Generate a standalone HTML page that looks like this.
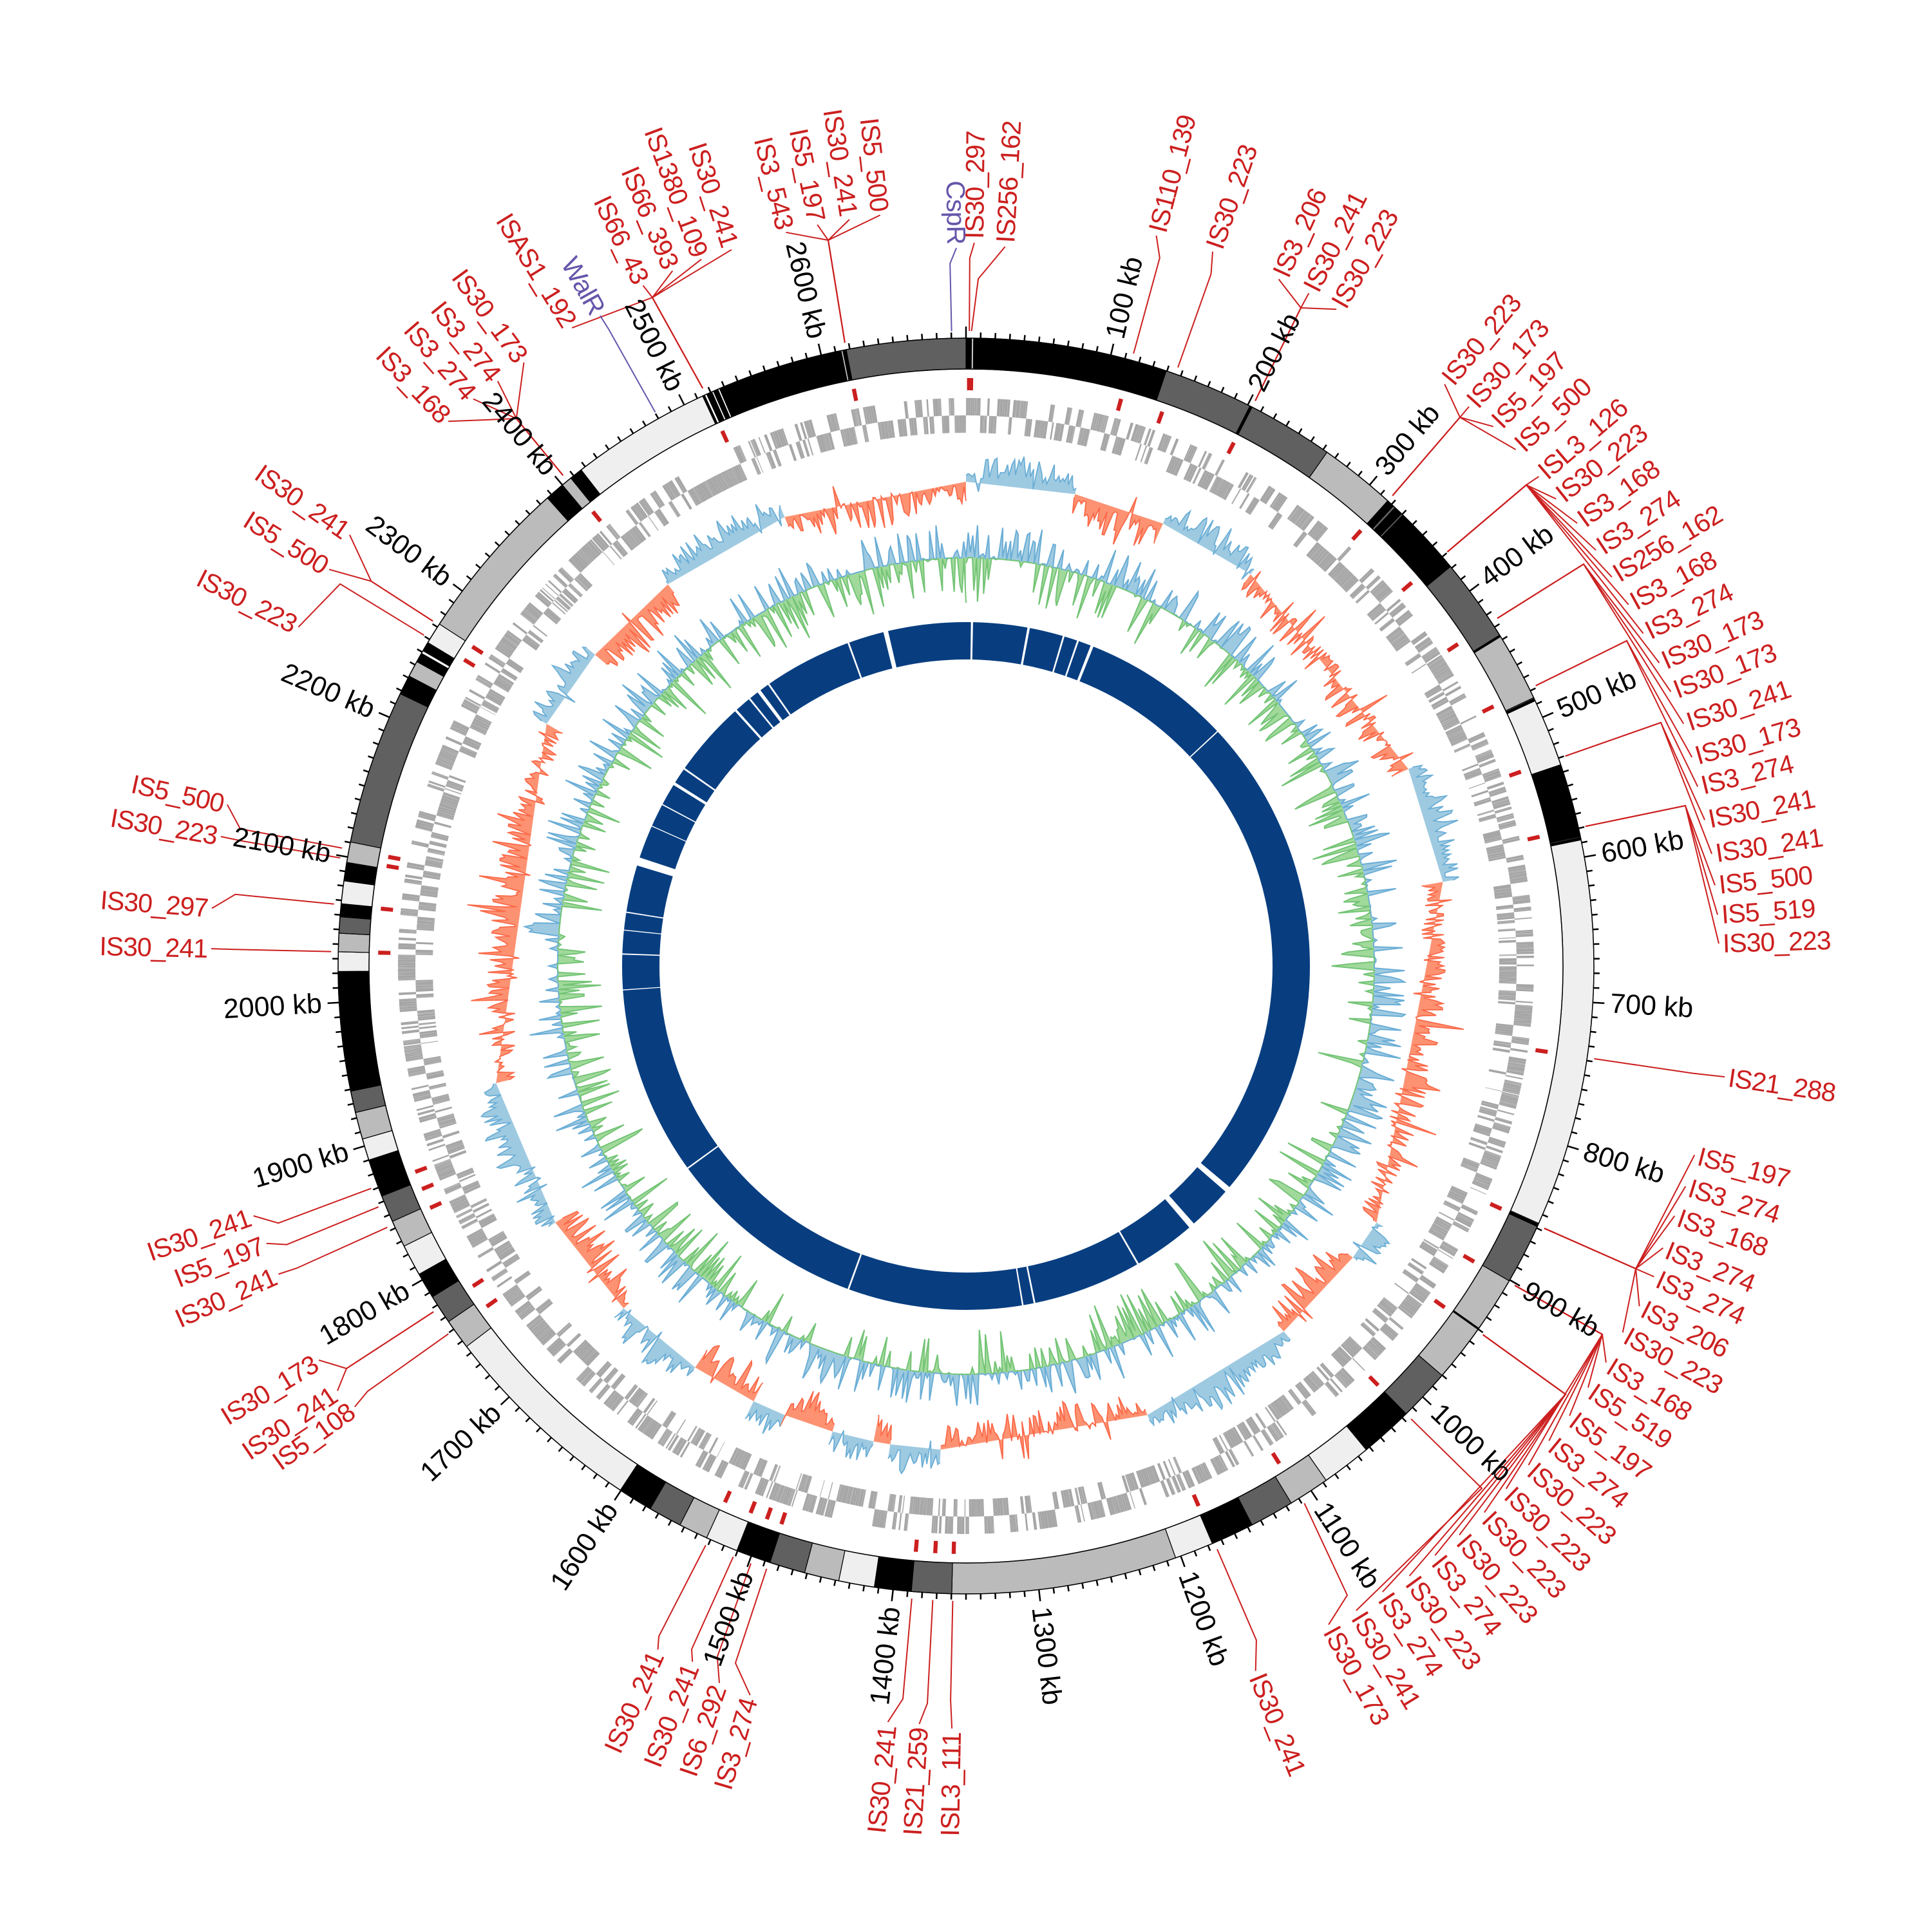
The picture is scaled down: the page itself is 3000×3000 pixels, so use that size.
<!DOCTYPE html>
<html><head><meta charset="utf-8"><style>
html,body{margin:0;padding:0;background:#fff;width:3000px;height:3000px;overflow:hidden}
svg{display:block}
text{font-family:"Liberation Sans",sans-serif}
.lab{font-size:41px;fill:#cc1f1f;letter-spacing:-1px}
.pu{fill:#6655aa}
.tk{font-size:43px;fill:#000}
</style></head><body>
<svg id="S" xmlns="http://www.w3.org/2000/svg" width="3000" height="3000" viewBox="0 0 3000 3000">
<rect width="3000" height="3000" fill="#fff"/>
<g id="G"></g>
<g id="TL">
<text class="tk" x="0" y="0">100 kb</text><text class="tk" x="0" y="0">200 kb</text><text class="tk" x="0" y="0">300 kb</text><text class="tk" x="0" y="0">400 kb</text><text class="tk" x="0" y="0">500 kb</text><text class="tk" x="0" y="0">600 kb</text><text class="tk" x="0" y="0">700 kb</text><text class="tk" x="0" y="0">800 kb</text><text class="tk" x="0" y="0">900 kb</text><text class="tk" x="0" y="0">1000 kb</text><text class="tk" x="0" y="0">1100 kb</text><text class="tk" x="0" y="0">1200 kb</text><text class="tk" x="0" y="0">1300 kb</text><text class="tk" x="0" y="0">1400 kb</text><text class="tk" x="0" y="0">1500 kb</text><text class="tk" x="0" y="0">1600 kb</text><text class="tk" x="0" y="0">1700 kb</text><text class="tk" x="0" y="0">1800 kb</text><text class="tk" x="0" y="0">1900 kb</text><text class="tk" x="0" y="0">2000 kb</text><text class="tk" x="0" y="0">2100 kb</text><text class="tk" x="0" y="0">2200 kb</text><text class="tk" x="0" y="0">2300 kb</text><text class="tk" x="0" y="0">2400 kb</text><text class="tk" x="0" y="0">2500 kb</text><text class="tk" x="0" y="0">2600 kb</text>
</g>
<g id="LB">
<text class="lab pu" x="1485" y="379">CspR</text>
<text class="lab" x="1513" y="371">IS30_297</text>
<text class="lab" x="1561" y="377">IS256_162</text>
<text class="lab" x="1219" y="355">IS3_543</text>
<text class="lab" x="1268" y="343">IS5_197</text>
<text class="lab" x="1318" y="335">IS30_241</text>
<text class="lab" x="1366" y="328">IS5_500</text>
<text class="lab" x="1134" y="382">IS30_241</text>
<text class="lab" x="1087" y="397">IS1380_109</text>
<text class="lab" x="1042" y="415">IS66_393</text>
<text class="lab" x="996" y="438">IS66_43</text>
<text class="lab" x="885" y="504">ISAS1_192</text>
<text class="lab pu" x="929" y="485">WalR</text>
<text class="lab" x="810" y="558">IS30_173</text>
<text class="lab" x="769" y="587">IS3_274</text>
<text class="lab" x="731" y="615">IS3_274</text>
<text class="lab" x="692" y="650">IS3_168</text>
<text class="lab" x="538" y="827">IS30_241</text>
<text class="lab" x="506" y="881">IS5_500</text>
<text class="lab" x="458" y="971">IS30_223</text>
<text class="lab" x="347" y="1248">IS5_500</text>
<text class="lab" x="337" y="1298">IS30_223</text>
<text class="lab" x="323" y="1410">IS30_297</text>
<text class="lab" x="322" y="1473">IS30_241</text>
<text class="lab" x="388" y="1890">IS30_241</text>
<text class="lab" x="408" y="1933">IS5_197</text>
<text class="lab" x="427" y="1981">IS30_241</text>
<text class="lab" x="490" y="2115">IS30_173</text>
<text class="lab" x="519" y="2163">IS30_241</text>
<text class="lab" x="546" y="2188">IS5_108</text>
<text class="lab" x="1019" y="2567">IS30_241</text>
<text class="lab" x="1073" y="2586">IS30_241</text>
<text class="lab" x="1115" y="2619">IS6_292</text>
<text class="lab" x="1163" y="2638">IS3_274</text>
<text class="lab" x="1378" y="2680">IS30_241</text>
<text class="lab" x="1427" y="2683">IS21_259</text>
<text class="lab" x="1478" y="2690">ISL3_111</text>
<text class="lab" x="1952" y="2600">IS30_241</text>
<text class="lab" x="2637" y="1795">IS5_197</text>
<text class="lab" x="2623" y="1844">IS3_274</text>
<text class="lab" x="2606" y="1890">IS3_168</text>
<text class="lab" x="2588" y="1940">IS3_274</text>
<text class="lab" x="2574" y="1985">IS3_274</text>
<text class="lab" x="2551" y="2031">IS3_206</text>
<text class="lab" x="2525" y="2072">IS30_223</text>
<text class="lab" x="2499" y="2119">IS3_168</text>
<text class="lab" x="2471" y="2158">IS5_519</text>
<text class="lab" x="2442" y="2202">IS5_197</text>
<text class="lab" x="2410" y="2241">IS3_274</text>
<text class="lab" x="2378" y="2279">IS30_223</text>
<text class="lab" x="2343" y="2316">IS30_223</text>
<text class="lab" x="2309" y="2353">IS30_223</text>
<text class="lab" x="2270" y="2388">IS30_223</text>
<text class="lab" x="2232" y="2420">IS3_274</text>
<text class="lab" x="2192" y="2452">IS30_223</text>
<text class="lab" x="2150" y="2477">IS3_274</text>
<text class="lab" x="2109" y="2506">IS30_241</text>
<text class="lab" x="2066" y="2528">IS30_173</text>
<text class="lab" x="2684" y="1673">IS21_288</text>
<text class="lab" x="1797" y="360">IS110_139</text>
<text class="lab" x="1885" y="385">IS30_223</text>
<text class="lab" x="1988" y="428">IS3_206</text>
<text class="lab" x="2035" y="450">IS30_241</text>
<text class="lab" x="2078" y="475">IS30_223</text>
<text class="lab" x="2247" y="592">IS30_223</text>
<text class="lab" x="2285" y="627">IS30_173</text>
<text class="lab" x="2323" y="658">IS5_197</text>
<text class="lab" x="2358" y="694">IS5_500</text>
<text class="lab" x="2394" y="736">ISL3_126</text>
<text class="lab" x="2421" y="771">IS30_223</text>
<text class="lab" x="2454" y="809">IS3_168</text>
<text class="lab" x="2483" y="851">IS3_274</text>
<text class="lab" x="2508" y="893">IS256_162</text>
<text class="lab" x="2534" y="936">IS3_168</text>
<text class="lab" x="2557" y="981">IS3_274</text>
<text class="lab" x="2582" y="1027">IS30_173</text>
<text class="lab" x="2600" y="1072">IS30_173</text>
<text class="lab" x="2620" y="1122">IS30_241</text>
<text class="lab" x="2633" y="1174">IS30_173</text>
<text class="lab" x="2642" y="1220">IS3_274</text>
<text class="lab" x="2653" y="1272">IS30_241</text>
<text class="lab" x="2664" y="1325">IS30_241</text>
<text class="lab" x="2669" y="1374">IS5_500</text>
<text class="lab" x="2673" y="1420">IS5_519</text>
<text class="lab" x="2675" y="1465">IS30_223</text>
</g>
</svg>
<script>
(function(){
var NS='http://www.w3.org/2000/svg',cx=1500,cy=1500,L=2700;
var G=document.getElementById('G');
function P(a,r){var t=a*Math.PI/180;return [(cx+r*Math.sin(t)).toFixed(1),(cy-r*Math.cos(t)).toFixed(1)];}
function add(tag,at,par){var e=document.createElementNS(NS,tag);for(var k in at)e.setAttribute(k,at[k]);(par||G).appendChild(e);return e;}
function sec(a1,a2,r1,r2){var A=P(a1,r2),B=P(a2,r2),C=P(a2,r1),D=P(a1,r1),lg=(a2-a1)>180?1:0;
return 'M'+A+'A'+r2+','+r2+' 0 '+lg+' 1 '+B+'L'+C+'A'+r1+','+r1+' 0 '+lg+' 0 '+D+'Z';}
var s=12345;function rnd(){s|=0;s=s+0x6D2B79F5|0;var t=Math.imul(s^s>>>15,1|s);t=t+Math.imul(t^t>>>7,61|t)^t;return((t^t>>>14)>>>0)/4294967296;}
// inner blue ring
add('circle',{cx:cx,cy:cy,r:505,fill:'none',stroke:'#083e80','stroke-width':58});
var gaps=[[1,0.35],[346.5,0.8],[10.5,0.4],[16.5,0.3],[19,0.3],[21.5,0.5],[47,0.2],[130.5,1.0],[139,1.0],[150,0.3],[168.5,0.3],[170.5,0.25],[200,0.3],[234,0.25],[287.7,1.4],[279,0.2],[276,0.15],[272,0.2],[266,0.15],[302,0.5],[305,0.3],[318,0.4],[321,0.3],[323,0.6],[325,0.3],[340,0.3],[298,0.2],[294,0.15]];
gaps.forEach(function(g){add('path',{d:sec(g[0]-g[1]/2,g[0]+g[1]/2,472,538),fill:'#fff'});});
// GC content track
var base=634,pp='',pn='';
var N=1200;
for(var i=0;i<=N;i++){var a=i*360/N;var bias=0.58+0.15*Math.sin(a*Math.PI/45)+0.1*Math.cos(a*Math.PI/17);
var v=(rnd()<bias?1:-1)*Math.pow(rnd(),1.8);v=v>0?v*56:v*72;
var vp=Math.max(v,0),vn=Math.min(v,0);
pp+=(i?'L':'M')+P(a,base+vp);pn+=(i?'L':'M')+P(a,base+vn);}
var circ='M'+P(0,base)+'A'+base+','+base+' 0 1 1 '+P(180,base)+'A'+base+','+base+' 0 1 1 '+P(360,base)+'Z';
add('path',{d:pp+'Z'+circ,fill:'#9ecae1','fill-rule':'evenodd'});
add('path',{d:pn+'Z'+circ,fill:'#a1d99b','fill-rule':'evenodd'});
add('path',{d:pp,fill:'none',stroke:'#6baed6','stroke-width':2});
add('path',{d:pn,fill:'none',stroke:'#74c476','stroke-width':2});
// GC skew
var SK=[[0,13,1],[13,24,-1],[24,36,1],[36,66,-1],[66,80,1],[80,122,-1],[122,127,1],[127,139,-1],[139,158,1],[158,183,-1],[183,189,1],[189,191,-1],[191,196,1],[196,202,-1],[202,206,1],[206,214,-1],[214,225,1],[225,238,-1],[238,256,1],[256,300,-1],[300,310,1],[310,322,-1],[322,338,1],[338,360,-1]];
var sb=752;
SK.forEach(function(R){var sg=R[2],amp=sg>0?45:62,d='M'+P(R[0],sb),ln='';
for(var a=R[0];a<=R[1]+1e-6;a+=0.25){var env=0.55+0.45*Math.abs(Math.sin((a-R[0])/(R[1]-R[0]+0.5)*Math.PI));
var v=sg*amp*env*(0.15+0.85*Math.pow(rnd(),1.6));if(rnd()<0.05)v=-v*0.5;
var q=P(a,sb+v);d+='L'+q;ln+=(ln?'L':'M')+q;}
d+='L'+P(R[1],sb)+'Z';
add('path',{d:d,fill:sg>0?'#9ecae1':'#fc9272'});
add('path',{d:ln,fill:'none',stroke:sg>0?'#6baed6':'#fb6a4a','stroke-width':1.8});});
// genes
var go='',gi='',a=0,str=1;
while(a<360){if(rnd()<0.03){a+=0.1+rnd()*0.5;continue;}
var len=(0.4+rnd()*1.8)*360/L;if(rnd()<0.25)str=-str;
var e=Math.min(a+len,360);
if(str>0)go+=sec(a,e,855,882);else gi+=sec(a,e,828,855);
a=e+0.01;}
add('path',{d:go,fill:'#a6a6a6'});add('path',{d:gi,fill:'#a6a6a6'});
// ideogram
var C={K:'#000',D:'#606060',G:'#bbbbbb',L:'#efefef'};
var SEG=[[0,18.6,'K'],[18.6,35.1,'D'],[35.1,42.2,'G'],[42.2,50.5,'K'],[50.5,58.2,'D'],[58.2,64.7,'G'],[64.7,71.3,'L'],[71.3,78.1,'K'],[78.1,114.2,'L'],[114.2,120.1,'D'],[120.1,125.3,'G'],[125.3,130.7,'G'],[130.7,135.5,'D'],[135.5,140.4,'K'],[140.4,145,'L'],[145,148.8,'G'],[148.8,152.9,'D'],[152.9,156.9,'K'],[156.9,160.5,'L'],[160.5,181.3,'G'],[181.3,185,'D'],[185,188.4,'K'],[188.4,191.7,'L'],[191.7,194.9,'G'],[194.9,198.2,'D'],[198.2,201.4,'K'],[201.4,204.4,'L'],[204.4,207.1,'G'],[207.1,210.2,'D'],[210.2,213.4,'K'],[213.4,232.7,'L'],[232.7,235.5,'G'],[235.5,238.2,'D'],[238.2,240.6,'K'],[240.6,243.5,'L'],[243.5,246,'G'],[246,248.5,'D'],[248.5,252,'K'],[252,254,'L'],[254,256.5,'G'],[256.5,258.5,'D'],[258.5,269.5,'K'],[269.5,271.3,'L'],[271.3,273,'G'],[273,274.5,'D'],[274.5,275.7,'K'],[275.7,277.8,'L'],[277.8,279.5,'K'],[279.5,281.4,'G'],[281.4,295.7,'D'],[295.7,297.5,'K'],[297.5,299,'G'],[299,301,'K'],[301,303,'L'],[303,318.2,'G'],[318.2,320,'K'],[320,321,'G'],[321,322.2,'K'],[322.2,335.2,'L'],[335.2,349,'K'],[349,360,'D']];
SEG.forEach(function(g){add('path',{d:sec(g[0],g[1],927,975),fill:C[g[2]],stroke:'#000','stroke-width':1.2});});
[[27,0.3,'#000'],[335.5,0.15,'#fff'],[336.2,0.1,'#fff'],[336.8,0.1,'#fff'],[348.6,0.1,'#ccc'],[0.6,0.12,'#ccc'],[300,0.2,'#fff'],[43,0.15,'#666'],[44,0.1,'#666'],[58.3,0.2,'#000'],[64.9,0.3,'#000'],[78.3,0.3,'#000'],[114.4,0.3,'#000'],[125.3,0.2,'#000']].forEach(function(g){add('path',{d:sec(g[0]-g[1]/2,g[0]+g[1]/2,927,975),fill:g[2]});});
add('circle',{cx:cx,cy:cy,r:975,fill:'none',stroke:'#000','stroke-width':1.5});
add('circle',{cx:cx,cy:cy,r:927,fill:'none',stroke:'#000','stroke-width':1.5});
// ticks
var td='';for(var k=0;k*10<L;k++){var ta=k*10/L*360;td+='M'+P(ta,975)+'L'+P(ta,k%10==0?993:984);}
add('path',{d:td,stroke:'#000','stroke-width':2.5,fill:'none'});
function place(t,x,y){var a=Math.atan2(x-cx,-(y-cy))*180/Math.PI;if(a<0)a+=360;
if(a>0.0&&a<180){t.setAttribute('transform','rotate('+(a-90).toFixed(2)+' '+x+' '+y+')');t.setAttribute('text-anchor','start');}
else{t.setAttribute('transform','rotate('+(a+90).toFixed(2)+' '+x+' '+y+')');t.setAttribute('text-anchor','end');}
t.setAttribute('dominant-baseline','central');return a;}
var tks=document.querySelectorAll('text.tk');
for(var i=0;i<tks.length;i++){var ta=(i+1)*100/L*360,q=P(ta,1002);tks[i].setAttribute('x',q[0]);tks[i].setAttribute('y',q[1]);place(tks[i],+q[0],+q[1]);}
var LD=[[358.7,0,0],[0.3,0,0],[0.5,1519,433],
[349,1286,373],[349,1286,373],[349,1286,373],[349,1286,373],
[335.5,1013,462],[335.5,1013,462],[335.5,1013,462],[335.5,1013,462],[335.5,1013,462],
[330.7,0,0],
[320.6,-1,0],[320.6,-1,0],[320.6,-1,0],[320.6,-1,0],
[302.9,-1,0],[302.9,-1,0],[301.4,0,0],
[280.7,373,1287],[279.8,0,0],[275.6,0,0],[271.3,0,0],
[249.5,0,0],[247.7,0,0],[245.7,0,0],
[237,538,2125],[237,538,2125],[234.6,0,0],
[204.2,1023,2541],[201.5,1074,2561],[199.8,0,0],[198.3,0,0],
[184.9,1402,2638],[183,1440,2645],[181.2,0,0],
[156.7,0,0],
[114.4,2540,1970],[114.4,2540,1970],[114.4,2540,1970],[114.4,2540,1970],[114.4,2540,1970],[114.4,2540,1970],[114.4,2540,1970],
[120.2,2488,2072],[120.2,2488,2072],[120.2,2488,2072],[120.2,2488,2072],[120.2,2488,2072],[120.2,2488,2072],
[125.5,2431,2165],[125.5,2431,2165],[125.5,2431,2165],[125.5,2431,2165],[125.5,2431,2165],
[135.5,2301,2311],[147.8,2092,2477],
[98.4,0,0],[15.3,0,0],[19.5,0,0],
[27.1,2020,478],[27.1,2020,478],[27.1,2020,478],
[42.2,2267,648],[42.2,2267,648],[42.2,2267,648],[42.2,2267,648],
[49.3,2370,753],[49.3,2370,753],[49.3,2370,753],[49.3,2370,753],[49.3,2370,753],[49.3,2370,753],[49.3,2370,753],
[56.8,2459,876],[56.8,2459,876],[56.8,2459,876],
[63.8,2526,995],[63.8,2526,995],
[70.7,2579,1122],[70.7,2579,1122],
[77.3,2617,1251],[77.3,2617,1251],[77.3,2617,1251]];
var labs=document.querySelectorAll('#LB text');var done={};
for(var i=0;i<labs.length;i++){var t=labs[i],x=+t.getAttribute('x'),y=+t.getAttribute('y');
var la=place(t,x,y),lr=Math.hypot(x-cx,y-cy),ld=LD[i]||[la,0,0];
var col=t.getAttribute('class').indexOf('pu')>=0?'#6655aa':'#cc1f1f';
var f=ld[0],d='M'+P(f,986);
if(ld[1]>0)d+='L'+ld[1]+','+ld[2];else if(ld[1]==-1)d+='L'+P(f,1100);else d+='L'+P(f,Math.min(1140,lr-30));
d+='L'+P(la,lr-6);
add('path',{d:d,fill:'none',stroke:col,'stroke-width':2});
if(col!='#6655aa'&&!done[f]){done[f]=1;add('path',{d:sec(f-0.2,f+0.2,894,913),fill:'#cc1f1f'});}}
})();
</script>
</body></html>
